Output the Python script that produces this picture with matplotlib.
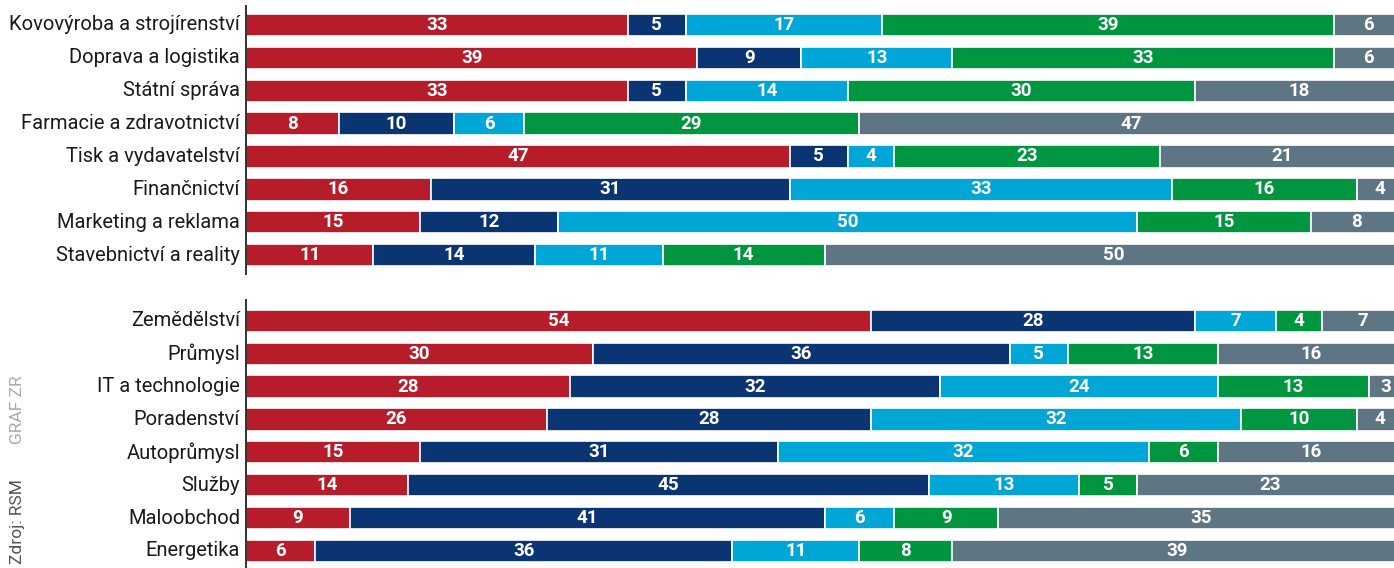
import matplotlib
matplotlib.use("Agg")
import matplotlib.pyplot as plt
import numpy as np

categories_top = ["Kovovýroba a strojírenství", "Doprava a logistika", "Státní správa",
                  "Farmacie a zdravotnictví", "Tisk a vydavatelství", "Finančnictví",
                  "Marketing a reklama", "Stavebnictví a reality"]
categories_bottom = ["Zemědělství", "Průmysl", "IT a technologie", "Poradenství",
                     "Autoprůmysl", "Služby", "Maloobchod", "Energetika"]

s1_top = [33, 39, 33, 8, 47, 16, 15, 11]
s2_top = [5, 9, 5, 10, 5, 31, 12, 14]
s3_top = [17, 13, 14, 6, 4, 33, 50, 11]
s4_top = [39, 33, 30, 29, 23, 16, 15, 14]
s5_top = [6, 6, 18, 47, 21, 4, 8, 50]

s1_bot = [54, 30, 28, 26, 15, 14, 9, 6]
s2_bot = [28, 36, 32, 28, 31, 45, 41, 36]
s3_bot = [7, 5, 24, 32, 32, 13, 6, 11]
s4_bot = [4, 13, 13, 10, 6, 5, 9, 8]
s5_bot = [7, 16, 3, 4, 16, 23, 35, 39]

colors = ["#B71C2B", "#0B3473", "#00A6D6", "#00953F", "#5E7684"]

plt.rcParams['font.family'] = ['Roboto', 'DejaVu Sans']

fig = plt.figure(figsize=(13.94, 5.68), dpi=100)
ax = fig.add_axes([246 / 1394, 0, 1 - 246 / 1394, 1])

categories = categories_top + categories_bottom
series = [s1_top + s1_bot, s2_top + s2_bot, s3_top + s3_bot, s4_top + s4_bot, s5_top + s5_bot]
ypos = list(range(8)) + list(range(9, 17))

left = np.zeros(len(categories))
for vals, c in zip(series, colors):
    vals = np.array(vals, dtype=float)
    ax.barh(ypos, vals, left=left, height=0.68, color=c, edgecolor="white", linewidth=1.2)
    for y, l, v in zip(ypos, left, vals):
        cx = l + v / 2
        if cx > 99.2 - 0.6:
            cx = min(cx, 98.6)
        ax.text(cx, y, f"{int(v)}", ha="center", va="center", color="white",
                fontsize=13.5, fontweight="bold", clip_on=True)
    left += vals

ax.set_xlim(0, 99.2)
ax.set_ylim(16.52, -0.76)
ax.axis("off")

ax.plot([0, 0], [-0.6, 7.6], color="#222222", lw=1.3, clip_on=False, solid_capstyle="butt")
ax.plot([0, 0], [8.35, 16.6], color="#222222", lw=1.3, clip_on=False, solid_capstyle="butt")

for y, name in zip(ypos, categories):
    ax.text(-0.5, y, name, ha="right", va="center", fontsize=14.5, color="#1a1a1a",
            transform=ax.transData)

fig.text(18 / 1394, 1 - 522 / 568, "Zdroj: RSM", rotation=90, ha="center", va="center",
         fontsize=12.5, color="#555555")
fig.text(18 / 1394, 1 - 410 / 568, "GRAF ZR", rotation=90, ha="center", va="center",
         fontsize=12.5, color="#aaaaaa")

fig.savefig("out.png", dpi=100)
